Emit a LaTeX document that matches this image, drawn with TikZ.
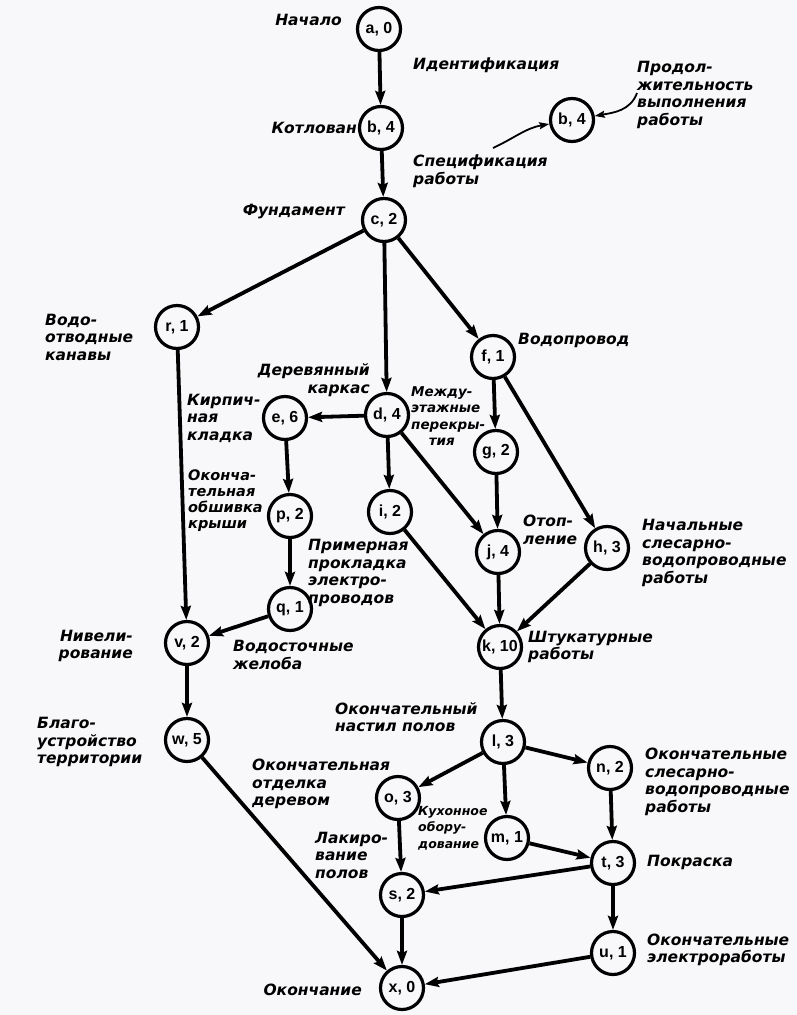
\documentclass[tikz,border=0pt]{standalone}
\usepackage{fontspec}
\setmainfont{DejaVu Sans}
\newfontfamily\nodefont{Liberation Sans}
\usetikzlibrary{arrows.meta}
\definecolor{paper}{RGB}{248,248,250}
\begin{document}
\begin{tikzpicture}[x=1pt,y=-1pt,
  ev/.style={circle,draw,line width=3.2pt,minimum size=43pt,inner sep=0pt,font=\nodefont\bfseries\fontsize{16}{16}\selectfont},
  lab/.style={font=\bfseries\itshape\fontsize{15.5}{17.5}\selectfont,inner sep=0pt,align=left},
  labr/.style={lab,align=right},
  act/.style={line width=3.8pt,-{Stealth[length=14pt,width=10pt,inset=2pt]}},
  leg/.style={line width=1.8pt,-{Stealth[length=10pt,width=7pt,inset=1.5pt]}}]
\fill[paper] (0,0) rectangle (797,1015);
\useasboundingbox (0,0) rectangle (797,1015);
% events
\node[ev] (a) at (379,29) {a, 0};
\node[ev] (b) at (381,128) {b, 4};
\node[ev] (c) at (384,220) {c, 2};
\node[ev] (lb) at (572,120) {b, 4};
\node[ev] (r) at (177,327) {r, 1};
\node[ev] (d) at (387,415) {d, 4};
\node[ev] (e) at (285,418) {e, 6};
\node[ev] (f) at (493,357) {f, 1};
\node[ev] (g) at (496,452) {g, 2};
\node[ev] (i) at (390,512) {i, 2};
\node[ev] (p) at (290,516) {p, 2};
\node[ev] (j) at (498,552) {j, 4};
\node[ev] (h) at (607,548) {h, 3};
\node[ev] (q) at (290,609) {q, 1};
\node[ev] (v) at (187,643) {v, 2};
\node[ev] (k) at (500,647) {k, 10};
\node[ev] (w) at (187,740) {w, 5};
\node[ev] (l) at (503,742) {l, 3};
\node[ev] (n) at (610,768) {n, 2};
\node[ev] (o) at (398,798) {o, 3};
\node[ev] (m) at (507,838) {m, 1};
\node[ev] (t) at (613,863) {t, 3};
\node[ev] (s) at (402,895) {s, 2};
\node[ev] (u) at (613,953) {u, 1};
\node[ev] (x) at (402,988) {x, 0};
% activities
\draw[act] (a) -- (b);
\draw[act] (b) -- (c);
\draw[act] (c) -- (r);
\draw[act] (c) -- (d);
\draw[act] (c) -- (f);
\draw[act] (r) -- (v);
\draw[act] (d) -- (e);
\draw[act] (d) -- (i);
\draw[act] (d) -- (j);
\draw[act] (f) -- (g);
\draw[act] (f) -- (h);
\draw[act] (e) -- (p);
\draw[act] (p) -- (q);
\draw[act] (q) -- (v);
\draw[act] (g) -- (j);
\draw[act] (i) -- (k);
\draw[act] (j) -- (k);
\draw[act] (h) -- (k);
\draw[act] (v) -- (w);
\draw[act] (k) -- (l);
\draw[act] (w) -- (x);
\draw[act] (l) -- (o);
\draw[act] (l) -- (m);
\draw[act] (l) -- (n);
\draw[act] (o) -- (s);
\draw[act] (m) -- (t);
\draw[act] (n) -- (t);
\draw[act] (t) -- (s);
\draw[act] (t) -- (u);
\draw[act] (s) -- (x);
\draw[act] (u) -- (x);
% legend arrows
\coordinate (sp) at (493,148);
\coordinate (pr) at (637,93);
\draw[leg] (sp) to[out=25,in=190] (lb);
\draw[leg] (pr) to[out=250,in=10] (lb);
% labels
\node[labr,anchor=east] (L1) at (342,20) {Начало};
\node[lab,anchor=west] (L2) at (413,65) {Идентификация};
\node[labr,anchor=east] (L3) at (357,128) {Котлован};
\node[lab,anchor=west] (L4) at (413,171) {Спецификация\\работы};
\node[labr,anchor=east] (L5) at (345,212) {Фундамент};
\node[lab,anchor=west] (L6) at (637,95) {Продол-\\жительность\\выполнения\\работы};
\node[lab,anchor=west] (L7) at (45,337) {Водо-\\отводные\\канавы};
\node[labr,anchor=east] (L8) at (370,380) {Деревянный\\каркас};
\node[lab,anchor=west] (L9) at (187,418) {Кирпич-\\ная\\кладка};
\node[lab,anchor=west,font=\bfseries\itshape\fontsize{14.5}{16}\selectfont] (L10) at (188,501) {Оконча-\\тельная\\обшивка\\крыши};
\node[lab,anchor=west] (L11) at (518,340) {Водопровод};
\node[lab,anchor=west,font=\bfseries\itshape\fontsize{13.5}{16.5}\selectfont] (L12) at (411,416) {Между-\\этажные\\перекры-\\\hspace*{1.3em}тия};
\node[lab,anchor=west] (L13) at (308,573) {Примерная\\прокладка\\электро-\\проводов};
\node[labr,anchor=east] (L14) at (133,646) {Нивели-\\рование};
\node[lab,anchor=west] (L15) at (233,655) {Водосточные\\желоба};
\node[lab,anchor=west] (L16) at (523,530) {Отоп-\\ление};
\node[lab,anchor=west] (L17) at (642,553) {Начальные\\слесарно-\\водопроводные\\работы};
\node[lab,anchor=west] (L18) at (528,647) {Штукатурные\\работы};
\node[lab,anchor=west] (L19) at (37,742) {Благо-\\устройство\\территории};
\node[lab,anchor=west] (L20) at (335,717) {Окончательный\\настил полов};
\node[lab,anchor=west] (L21) at (252,784) {Окончательная\\отделка\\деревом};
\node[lab,anchor=west] (L22) at (645,782) {Окончательные\\слесарно-\\водопроводные\\работы};
\node[lab,anchor=west,font=\bfseries\itshape\fontsize{12.5}{16.5}\selectfont] (L23) at (418,828) {Кухонное\\обору-\\дование};
\node[lab,anchor=west] (L24) at (315,855) {Лакиро-\\вание\\полов};
\node[lab,anchor=west] (L25) at (647,862) {Покраска};
\node[lab,anchor=west] (L26) at (647,950) {Окончательные\\электроработы};
\node[labr,anchor=east] (L27) at (362,990) {Окончание};
\end{tikzpicture}
\end{document}
